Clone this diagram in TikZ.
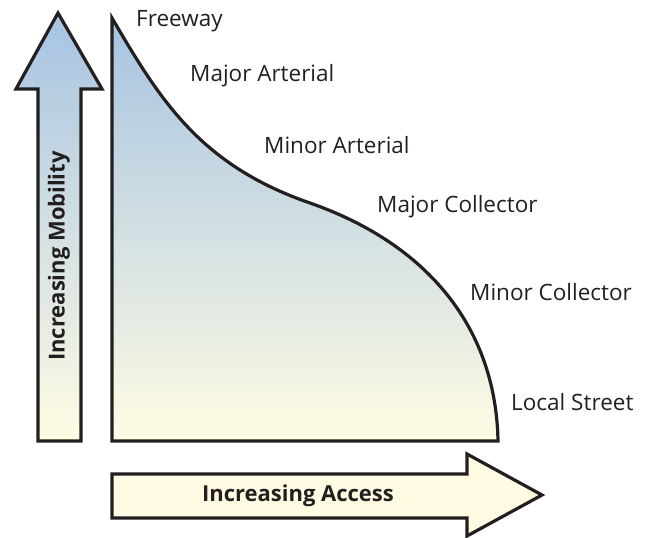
\documentclass[tikz,border=0pt]{standalone}
\usepackage{fontspec}
\setmainfont{Open Sans}
\begin{document}
\begin{tikzpicture}[x=1pt,y=-1pt,
  outl/.style={draw=ink,line width=3.2pt,line join=miter},
  lbl/.style={font=\fontsize{22.5}{26}\selectfont,text=ink,inner sep=0pt,anchor=west},
  blbl/.style={font=\bfseries\fontsize{22}{26}\selectfont,text=ink,inner sep=0pt}]
\definecolor{ink}{HTML}{231F20}
\definecolor{topblue}{HTML}{A6C3E2}
\definecolor{cream}{HTML}{FFFCE3}
\useasboundingbox (0,0) rectangle (646,538);
% up arrow
\path[outl,top color=topblue,bottom color=cream]
  (58,13) -- (102,89) -- (81,89) -- (81,441) -- (38,441) -- (38,89) -- (16,89) -- cycle;
% main shape
\path[outl,top color=topblue,bottom color=cream]
  (112,18) .. controls (160,100) and (200,165) .. (310,203)
  .. controls (430,245) and (496,330) .. (498,441) -- (112,441) -- cycle;
% right arrow
\path[outl,fill=cream]
  (112,474) -- (467,474) -- (467,454) -- (542,495) -- (467,536) -- (467,518) -- (112,518) -- cycle;
\node[blbl] (acc) at (298,496) {Increasing Access};
\node[blbl,rotate=90] (mob) at (59,256) {Increasing Mobility};
\node[lbl] (fw) at (136,21) {Freeway};
\node[lbl] (ma) at (190,76) {Major Arterial};
\node[lbl] (mi) at (264,145) {Minor Arterial};
\node[lbl] (mc) at (377,207) {Major Collector};
\node[lbl] (nc) at (470,292) {Minor Collector};
\node[lbl] (ls) at (511,402) {Local Street};
\end{tikzpicture}
\end{document}
